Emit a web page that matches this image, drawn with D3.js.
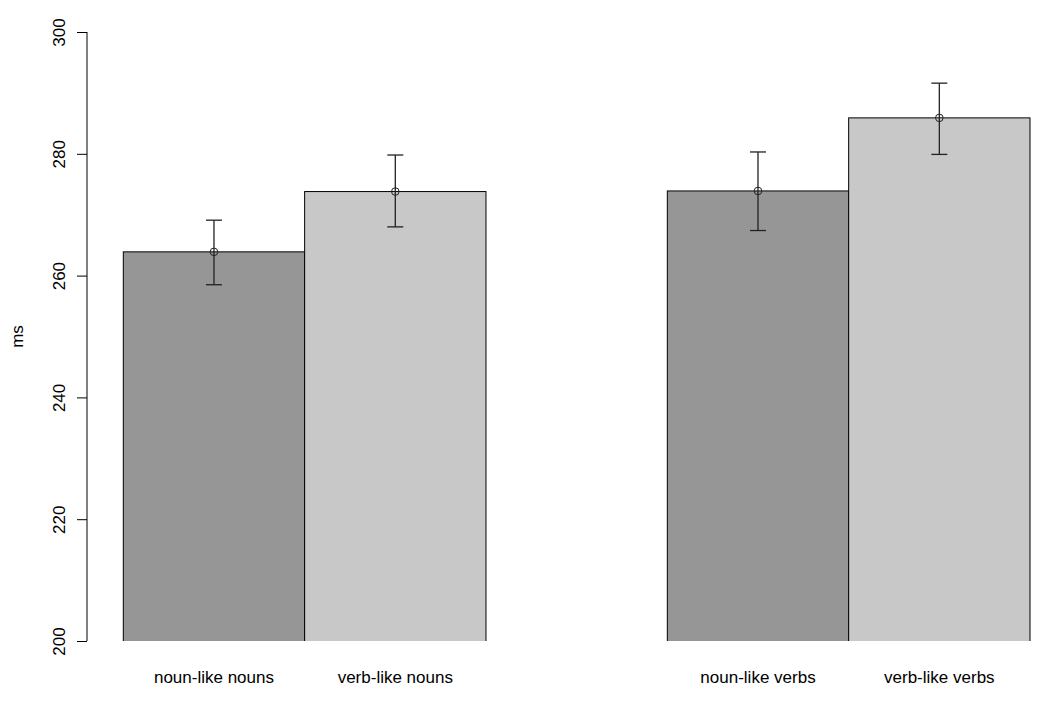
<!DOCTYPE html>
<html>
<head>
<meta charset="utf-8">
<script src="https://cdn.jsdelivr.net/npm/d3@7"></script>
<style>
  body { margin: 0; background: #fff; }
  text { font-family: "Liberation Sans", Arial, sans-serif; fill: #000; }
</style>
</head>
<body>
<div id="chart"></div>
<script>
var labels = ["noun-like nouns", "verb-like nouns", "noun-like verbs", "verb-like verbs"];
var means = [263.9, 273.8, 273.9, 285.9];
var upper = [269.1, 279.8, 280.3, 291.6];
var lower = [258.5, 268.0, 267.4, 279.9];
var slots = [0, 1, 3, 4];
var fills = ["#969696", "#c8c8c8", "#969696", "#c8c8c8"];
var yTicks = [200, 220, 240, 260, 280, 300];

var width = 1050, height = 709;

var svg = d3.select("#chart").append("svg")
  .attr("width", width)
  .attr("height", height);

var x = d3.scaleLinear().domain([0, 5]).range([123.3, 1030]);
var y = d3.scaleLinear().domain([200, 300]).range([641, 32]);
var bw = x(1) - x(0);

svg.append("clipPath").attr("id", "plotclip")
  .append("rect")
  .attr("x", 0).attr("y", 0)
  .attr("width", width).attr("height", y(200));

var bars = svg.append("g").attr("clip-path", "url(#plotclip)");

bars.selectAll("rect")
  .data(means)
  .enter()
  .append("rect")
  .attr("x", function (d, i) { return x(slots[i]); })
  .attr("y", function (d) { return y(d); })
  .attr("width", bw)
  .attr("height", function (d) { return y(200) - y(d) + 5; })
  .style("fill", function (d, i) { return fills[i]; })
  .style("stroke", "#000")
  .style("stroke-width", 1);

// error bars
var err = svg.append("g")
  .style("stroke", "#222")
  .style("stroke-width", 1.3)
  .style("fill", "none");

means.forEach(function (m, i) {
  var cx = x(slots[i] + 0.5);
  err.append("line")
    .attr("x1", cx).attr("x2", cx)
    .attr("y1", y(upper[i])).attr("y2", y(lower[i]));
  err.append("line")
    .attr("x1", cx - 8).attr("x2", cx + 8)
    .attr("y1", y(upper[i])).attr("y2", y(upper[i]));
  err.append("line")
    .attr("x1", cx - 8).attr("x2", cx + 8)
    .attr("y1", y(lower[i])).attr("y2", y(lower[i]));
  err.append("circle")
    .attr("cx", cx).attr("cy", y(m))
    .attr("r", 3.8)
    .style("stroke-width", 1);
});

// y axis, R style
var axis = svg.append("g")
  .attr("transform", "translate(87,0)")
  .call(d3.axisLeft(y).tickValues(yTicks).tickSize(10).tickPadding(0).tickFormat(d3.format("d")));

axis.select(".domain")
  .attr("d", "M0," + y(200) + "V" + y(300))
  .style("stroke", "#000");
axis.selectAll(".tick line").style("stroke", "#000");
axis.selectAll(".tick text")
  .attr("x", 0).attr("y", 0)
  .attr("dy", null)
  .attr("transform", "translate(-22,0) rotate(-90)")
  .attr("text-anchor", "middle")
  .style("font-size", "17px")
  .style("font-family", "Liberation Sans, Arial, sans-serif");

svg.append("text")
  .attr("transform", "translate(23," + (y(250)) + ") rotate(-90)")
  .attr("text-anchor", "middle")
  .style("font-size", "17px")
  .text("ms");

// category labels
svg.selectAll(".cat")
  .data(labels)
  .enter()
  .append("text")
  .attr("class", "cat")
  .attr("x", function (d, i) { return x(slots[i] + 0.5); })
  .attr("y", 683)
  .attr("text-anchor", "middle")
  .style("font-size", "17px")
  .text(function (d) { return d; });
</script>
</body>
</html>
